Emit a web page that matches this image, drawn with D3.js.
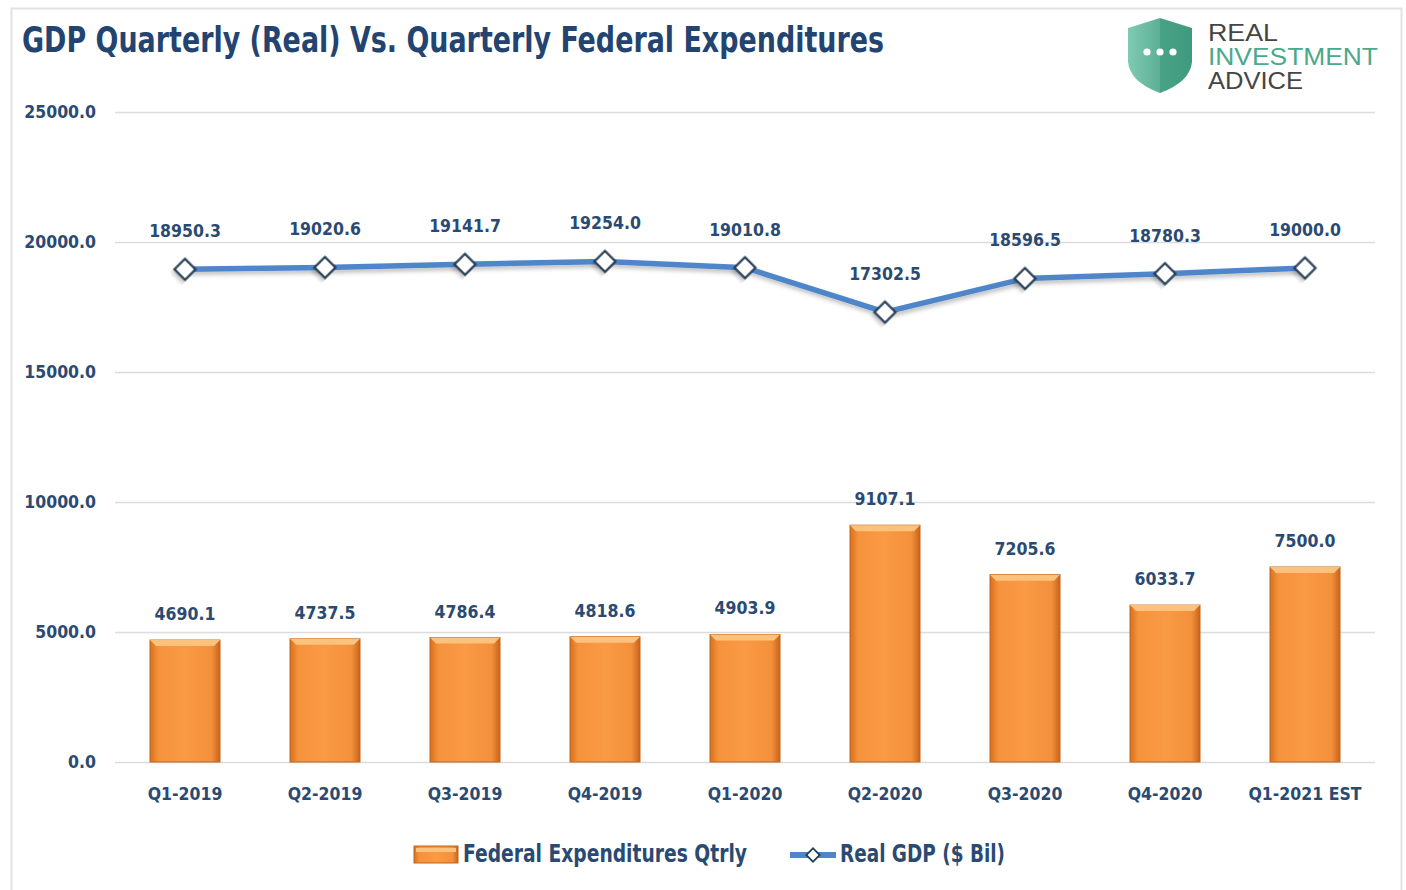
<!DOCTYPE html>
<html>
<head>
<meta charset="utf-8">
<script src="https://cdn.jsdelivr.net/npm/d3@7"></script>
<style>
  body { margin: 0; background: #fff; }
  text { font-family: "Liberation Sans Narrow", "DejaVu Sans Condensed", sans-serif; }
</style>
</head>
<body>
<div id="chart"></div>
<script>
const quarters = ["Q1-2019", "Q2-2019", "Q3-2019", "Q4-2019", "Q1-2020", "Q2-2020", "Q3-2020", "Q4-2020", "Q1-2021 EST"];
const fedExpenditures = [4690.1, 4737.5, 4786.4, 4818.6, 4903.9, 9107.1, 7205.6, 6033.7, 7500.0];
const realGdp = [18950.3, 19020.6, 19141.7, 19254.0, 19010.8, 17302.5, 18596.5, 18780.3, 19000.0];
const yTicks = [0, 5000, 10000, 15000, 20000, 25000];

const W = 1406, H = 890;
const navy = "#2a4a72";
const fs = 17.5;

const svg = d3.select("#chart").append("svg")
    .attr("width", W).attr("height", H);

const defs = svg.append("defs");

// bar gradient
const bg = defs.append("linearGradient").attr("id", "barGrad")
    .attr("x1", "0").attr("x2", "1").attr("y1", "0").attr("y2", "0");
bg.append("stop").attr("offset", "0%").attr("stop-color", "#d8711f");
bg.append("stop").attr("offset", "12%").attr("stop-color", "#f6923c");
bg.append("stop").attr("offset", "50%").attr("stop-color", "#f99a45");
bg.append("stop").attr("offset", "88%").attr("stop-color", "#f3903b");
bg.append("stop").attr("offset", "100%").attr("stop-color", "#c9631a");

const sh = defs.append("filter").attr("id", "shadow")
    .attr("x", "-10%").attr("y", "-50%").attr("width", "120%").attr("height", "200%");
sh.append("feDropShadow").attr("dx", 1).attr("dy", 3).attr("stdDeviation", 2)
    .attr("flood-color", "#000").attr("flood-opacity", 0.25);

const shieldGrad = defs.append("linearGradient").attr("id", "shieldGrad")
    .attr("x1", "0").attr("x2", "1").attr("y1", "0").attr("y2", "0");
shieldGrad.append("stop").attr("offset", "0%").attr("stop-color", "#7fcab2");
shieldGrad.append("stop").attr("offset", "50%").attr("stop-color", "#5cb096");
shieldGrad.append("stop").attr("offset", "50%").attr("stop-color", "#4aa285");
shieldGrad.append("stop").attr("offset", "100%").attr("stop-color", "#3f9a7d");

// outer frame
svg.append("rect").attr("x", 11.5).attr("y", 8.5).attr("width", 1390).attr("height", 900)
    .attr("fill", "#fff").attr("stroke", "#e2e2e2").attr("stroke-width", 2);

// title
svg.append("text").attr("x", 22).attr("y", 52)
    .attr("font-size", 35).attr("font-weight", "bold").attr("fill", "#234470")
    .attr("textLength", 862).attr("lengthAdjust", "spacingAndGlyphs")
    .text("GDP Quarterly (Real) Vs. Quarterly Federal Expenditures");

// logo
const logo = svg.append("g");
logo.append("path")
    .attr("d", "M1128,28 L1160,18 L1192,28 L1192,62 Q1190,82 1160,93 Q1130,82 1128,62 Z")
    .attr("fill", "url(#shieldGrad)");
[1147, 1160, 1173].forEach(cx => {
    logo.append("circle").attr("cx", cx).attr("cy", 52).attr("r", 3.6).attr("fill", "#fff");
});
const logoText = [["REAL", "#454545", 41, 70], ["INVESTMENT", "#4aa98b", 65, 170], ["ADVICE", "#454545", 89, 95]];
logoText.forEach(([t, c, y, len]) => {
    logo.append("text").attr("x", 1208).attr("y", y)
        .style("font-family", "'Liberation Sans', Arial, sans-serif")
        .attr("font-size", 21).attr("fill", c)
        .attr("textLength", len).attr("lengthAdjust", "spacingAndGlyphs")
        .attr("transform", `translate(0,${y}) scale(1,1.15) translate(0,${-y})`)
        .text(t);
});

// scales
const x = d3.scaleBand().domain(quarters).range([115, 1375])
    .paddingInner(0.5).paddingOuter(0.25);
const y = d3.scaleLinear().domain([0, 25000]).range([762, 112]);

// gridlines + tick labels
const grid = svg.append("g");
grid.selectAll("line").data(yTicks).join("line")
    .attr("x1", 115).attr("x2", 1375)
    .attr("y1", d => y(d) + 0.5).attr("y2", d => y(d) + 0.5)
    .attr("stroke", "#dcdcdc").attr("stroke-width", 1.5);
grid.selectAll("text").data(yTicks).join("text")
    .attr("x", 96).attr("y", d => y(d) + 6)
    .attr("text-anchor", "end").attr("font-size", fs).attr("font-weight", "bold")
    .attr("fill", navy)
    .text(d => d3.format(".1f")(d));

// category labels
svg.append("g").selectAll("text").data(quarters).join("text")
    .attr("x", d => x(d) + x.bandwidth() / 2).attr("y", 800)
    .attr("text-anchor", "middle").attr("font-size", fs).attr("font-weight", "bold")
    .attr("fill", navy).text(d => d);

// bars
const bars = svg.append("g").selectAll("g").data(quarters).join("g");
bars.append("rect")
    .attr("x", d => x(d)).attr("width", x.bandwidth())
    .attr("y", (d, i) => y(fedExpenditures[i]))
    .attr("height", (d, i) => y(0) - y(fedExpenditures[i]))
    .attr("fill", "url(#barGrad)").attr("stroke", "#c0641d").attr("stroke-width", 1);
bars.append("path")
    .attr("d", (d, i) => {
        const x0 = x(d), x1 = x(d) + x.bandwidth(), t = y(fedExpenditures[i]);
        return `M${x0},${t} L${x1},${t} L${x1 - 6},${t + 6} L${x0 + 6},${t + 6} Z`;
    })
    .attr("fill", "#fbc27d");
bars.append("text")
    .attr("x", d => x(d) + x.bandwidth() / 2)
    .attr("y", (d, i) => y(fedExpenditures[i]) - 20)
    .attr("text-anchor", "middle").attr("font-size", fs).attr("font-weight", "bold")
    .attr("fill", navy)
    .text((d, i) => d3.format(".1f")(fedExpenditures[i]));

// GDP line
const cx = d => x(d) + x.bandwidth() / 2;
const line = d3.line().x((d, i) => cx(quarters[i])).y(d => y(d));
svg.append("path").datum(realGdp)
    .attr("d", line).attr("fill", "none")
    .attr("stroke", "#4f86c9").attr("stroke-width", 5.5)
    .attr("filter", "url(#shadow)");

const diamond = d3.symbol().type(d3.symbolSquare).size(220);
svg.append("g").selectAll("path").data(realGdp).join("path")
    .attr("d", diamond)
    .attr("transform", (d, i) => `translate(${cx(quarters[i])},${y(d)}) rotate(45)`)
    .attr("fill", "#fff").attr("stroke", "#243a55").attr("stroke-width", 2.2)
    .attr("filter", "url(#shadow)");

svg.append("g").selectAll("text").data(realGdp).join("text")
    .attr("x", (d, i) => cx(quarters[i])).attr("y", d => y(d) - 32)
    .attr("text-anchor", "middle").attr("font-size", fs).attr("font-weight", "bold")
    .attr("fill", navy)
    .text(d => d3.format(".1f")(d));

// legend
const leg = svg.append("g");
leg.append("rect").attr("x", 414).attr("y", 846).attr("width", 44).attr("height", 17)
    .attr("fill", "url(#barGrad)").attr("stroke", "#c0641d");
leg.append("rect").attr("x", 416).attr("y", 848).attr("width", 40).attr("height", 4)
    .attr("fill", "#fbc27d");
leg.append("text").attr("x", 463).attr("y", 862)
    .attr("font-size", 25).attr("font-weight", "bold").attr("fill", navy)
    .attr("textLength", 284).attr("lengthAdjust", "spacingAndGlyphs")
    .text("Federal Expenditures Qtrly");
leg.append("line").attr("x1", 790).attr("x2", 836).attr("y1", 855).attr("y2", 855)
    .attr("stroke", "#4f86c9").attr("stroke-width", 6);
leg.append("path").attr("d", d3.symbol().type(d3.symbolSquare).size(90)())
    .attr("transform", "translate(813,855) rotate(45)")
    .attr("fill", "#fff").attr("stroke", "#243a55").attr("stroke-width", 1.8);
leg.append("text").attr("x", 840).attr("y", 862)
    .attr("font-size", 25).attr("font-weight", "bold").attr("fill", navy)
    .attr("textLength", 165).attr("lengthAdjust", "spacingAndGlyphs")
    .text("Real GDP ($ Bil)");
</script>
</body>
</html>
